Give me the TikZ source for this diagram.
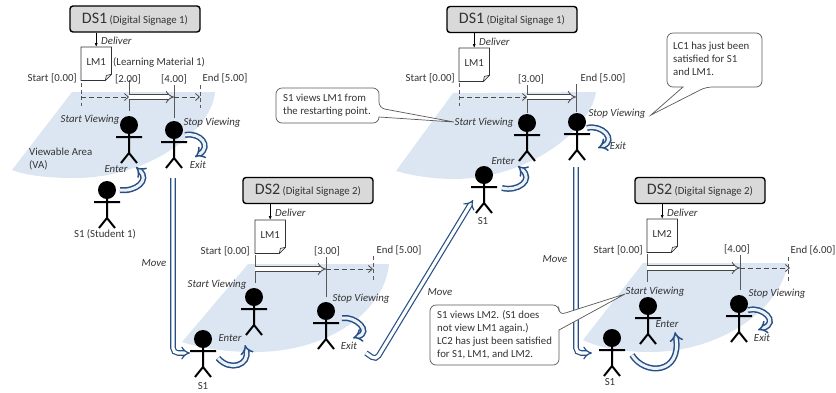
\documentclass[tikz,border=0pt]{standalone}
\usepackage{fontspec}
\setmainfont{Carlito}
\usetikzlibrary{arrows.meta,calc}
\definecolor{vablue}{HTML}{DCE6F2}
\definecolor{mvblue}{HTML}{264F85}
\definecolor{txtgray}{HTML}{333333}
\tikzset{
    dsbox/.style={draw=black,line width=1.4pt,fill=gray!30,rounded corners=3pt,minimum width=130pt,minimum height=26pt,inner sep=0pt,text=txtgray},
    lab/.style={text=txtgray,font=\fontsize{10.8}{13}\selectfont,inner sep=0pt},
    act/.style={lab,font=\fontsize{10.8}{13}\selectfont\itshape},
    va/.style={fill=vablue,draw=none},
    tickdash/.style={gray!70!black,dash pattern=on 4pt off 2.5pt,line width=0.8pt},
    ticksolid/.style={gray!70!black,line width=0.9pt},
    lookline/.style={-{Straight Barb[length=4pt,width=7pt]},dash pattern=on 5pt off 3pt,gray!60!black,line width=0.8pt},
    seenline/.style={-{Implies},draw=gray!55!black,double=white,double distance=3.6pt,line width=0.8pt},
    mvarrow/.style={-{Implies},draw=mvblue,double=white,double distance=3.2pt,line width=1.2pt,rounded corners=5pt},
    curvearrow/.style={-{Implies},draw=mvblue,double=vablue!50,double distance=3pt,line width=1.5pt},
    balloon/.style={draw=gray!70!black,fill=white,line width=0.7pt,rounded corners=6pt},
    actor/.pic={
        \fill[black] (0,0) circle (9);
        \draw[black,line width=2pt] (-13,12) -- (13,12) (0,9) -- (0,28) (-8,38) -- (0,28) -- (8,38);
    }
}
\newcommand{\lmdoc}[4]{% name, top left x, top left y, text
    \node[minimum width=30pt,minimum height=33pt,inner sep=0pt,anchor=north west] (#1) at (#2,#3) {};
    \draw[draw=gray!40!black,fill=white,line width=0.7pt] (#1.north west) -- (#1.north east) -- ($(#1.south east)+(0,-6)$) -- ($(#1.south east)+(-6,0)$) -- (#1.south west) -- cycle;
    \draw[draw=gray!40!black,line width=0.7pt] ($(#1.south east)+(0,-6)$) -- ($(#1.south east)+(-5,-5)$) -- ($(#1.south east)+(-6,0)$);
    \node[lab] (#1txt) at ($(#1.north)+(0,15)$) {#4};
}
\begin{document}
\begin{tikzpicture}[x=1pt,y=-1pt]
    \useasboundingbox (0,0) rectangle (836,392);
    % viewable areas
    \fill[va] (72,92) -- (215,92) .. controls (212,130) and (150,178) .. (75,178) .. controls (45,178) and (25,175) .. (12,170) -- cycle;
    \fill[va] (248,264) -- (389,264) .. controls (385,310) and (330,352) .. (255,352) .. controls (225,352) and (200,348) .. (182,342) -- cycle;
    \fill[va] (453,93) -- (596,92) .. controls (590,130) and (530,178) .. (455,179) .. controls (430,179) and (410,175) .. (396,171) -- cycle;
    \fill[va] (643,263) -- (788,263) .. controls (780,310) and (720,352) .. (650,352) .. controls (620,352) and (600,348) .. (583,340) -- cycle;

    % signage boxes and materials
    \node[dsbox] (dsa) at (135,19) {{\fontsize{16}{18}\selectfont DS1} {\fontsize{10.8}{13}\selectfont (Digital Signage 1)}};
    \node[dsbox] (dsb) at (308,190.5) {{\fontsize{16}{18}\selectfont DS2} {\fontsize{10.8}{13}\selectfont (Digital Signage 2)}};
    \node[dsbox] (dsc) at (512,19.5) {{\fontsize{16}{18}\selectfont DS1} {\fontsize{10.8}{13}\selectfont (Digital Signage 1)}};
    \node[dsbox] (dsd) at (700,190.5) {{\fontsize{16}{18}\selectfont DS2} {\fontsize{10.8}{13}\selectfont (Digital Signage 2)}};
    \lmdoc{lma}{81}{47}{LM1}
    \lmdoc{lmb}{255}{220}{LM1}
    \lmdoc{lmc}{459}{48}{LM1}
    \lmdoc{lmd}{647}{219}{LM2}
    \draw[-{Latex[length=4pt]},line width=0.7pt] (dsa.south -| lma.north) -- (lma.north);
    \draw[-{Latex[length=4pt]},line width=0.7pt] (dsb.south -| lmb.north) -- (lmb.north);
    \draw[-{Latex[length=4pt]},line width=0.7pt] (dsc.south -| lmc.north) -- (lmc.north);
    \draw[-{Latex[length=4pt]},line width=0.7pt] (dsd.south -| lmd.north) -- (lmd.north);
    \node[act,anchor=west] (dela) at (101,41) {Deliver};
    \node[act,anchor=west] (delb) at (275,213) {Deliver};
    \node[act,anchor=west] (delc) at (479,42) {Deliver};
    \node[act,anchor=west] (deld) at (667,213) {Deliver};
    \node[lab,anchor=west] (lmname) at (113,62) {(Learning Material 1)};

    % time line 1
    \coordinate (ta) at (81,97); \coordinate (tb) at (129,97); \coordinate (tc) at (174,97); \coordinate (td) at (200,97);
    \draw[tickdash] (ta) ++(0,-14) -- ++(0,23);
    \draw[ticksolid] (tb) ++(0,-17) -- ++(0,31);
    \draw[ticksolid] (tc) ++(0,-12) -- ++(0,33);
    \draw[tickdash] (td) ++(0,-12) -- ++(0,23);
    \draw[lookline] (ta) -- (tb);
    \draw[seenline] (tb) -- (tc);
    \draw[lookline] (tc) -- (td);
    \node[lab,anchor=east] (sa) at (77,78) {Start [0.00]};
    \node[lab] (ma) at (128,79) {[2.00]};
    \node[lab] (mb) at (174,79) {[4.00]};
    \node[lab] (ea) at (225,78) {End [5.00]};

    % time line 2
    \coordinate (ua) at (255,269); \coordinate (ub) at (326,269); \coordinate (uc) at (373,269);
    \draw[ticksolid] (ua) ++(0,-14) -- ++(0,28);
    \draw[ticksolid] (ub) ++(0,-12) -- ++(0,40);
    \draw[tickdash] (uc) ++(0,-13) -- ++(0,24);
    \draw[seenline] (ua) -- (ub);
    \draw[lookline] (ub) -- (uc);
    \node[lab,anchor=east] (sb) at (250,251) {Start [0.00]};
    \node[lab] (mc) at (327,251) {[3.00]};
    \node[lab] (eb) at (399,250) {End [5.00]};

    % time line 3
    \coordinate (va) at (459,97); \coordinate (vb) at (527,97); \coordinate (vc) at (576,97);
    \draw[tickdash] (va) ++(0,-14) -- ++(0,23);
    \draw[ticksolid] (vb) ++(0,-12) -- ++(0,28);
    \draw[ticksolid] (vc) ++(0,-13) -- ++(0,28);
    \draw[lookline] (va) -- (vb);
    \draw[seenline] (vb) -- (vc);
    \node[lab,anchor=east] (sc) at (455,78) {Start [0.00]};
    \node[lab] (md) at (531,79) {[3.00]};
    \node[lab] (ec) at (603,78) {End [5.00]};

    % time line 4
    \coordinate (wa) at (647,268); \coordinate (wb) at (740,268); \coordinate (wc) at (790,268);
    \draw[ticksolid] (wa) ++(0,-14) -- ++(0,28);
    \draw[ticksolid] (wb) ++(0,-13) -- ++(0,35);
    \draw[tickdash] (wc) ++(-2,-11) -- ++(0,24);
    \draw[seenline] (wa) -- (wb);
    \draw[lookline] (wb) -- (wc);
    \node[lab,anchor=east] (sd) at (643,250) {Start [0.00]};
    \node[lab] (me) at (737,249) {[4.00]};
    \node[lab] (ed) at (813,250) {End [6.00]};

    % students
    \pic at (129,125) {actor};
    \pic at (174,130) {actor};
    \pic at (107,190) {actor};
    \pic at (254,297) {actor};
    \pic at (326,311) {actor};
    \pic at (203,339) {actor};
    \pic at (527,123) {actor};
    \pic at (484,175) {actor};
    \pic at (577,122) {actor};
    \pic at (648,306) {actor};
    \pic at (739,304) {actor};
    \pic at (612,338) {actor};
    \node[lab] (sta) at (105,234) {S1 (Student 1)};
    \node[lab] (stb) at (203,386) {S1};
    \node[lab] (stc) at (483,221) {S1};
    \node[lab] (std) at (610,382) {S1};

    % moving between the signages
    \coordinate (mva) at (173,178); \coordinate (mvb) at (190,353);
    \coordinate (mvc) at (366,353); \coordinate (mvd) at (473,200);
    \coordinate (mve) at (576,167); \coordinate (mvf) at (592,353);
    \draw[mvarrow] (mva) -- (mva |- mvb) -- (mvb);
    \draw[mvarrow] (mvc) -- (376,360) -- (mvd);
    \draw[mvarrow] (mve) -- (mve |- mvf) -- (mvf);
    \node[act] (mvla) at (154,263) {Move};
    \node[act] (mvlb) at (440,292) {Move};
    \node[act] (mvlc) at (555,259) {Move};

    % enter and exit
    \draw[curvearrow] (120,190) .. controls (136,192) and (150,180) .. (136,167);
    \draw[curvearrow] (185,135) .. controls (200,132) and (212,146) .. (195,157);
    \draw[curvearrow] (218,358) .. controls (230,372) and (250,365) .. (245,345);
    \draw[curvearrow] (342,318) .. controls (356,316) and (372,332) .. (353,338);
    \draw[curvearrow] (502,188) .. controls (518,192) and (534,180) .. (518,166);
    \draw[curvearrow] (587,128) .. controls (602,124) and (617,140) .. (598,148);
    \draw[curvearrow] (632,355) .. controls (645,376) and (682,374) .. (675,332);
    \draw[curvearrow] (748,310) .. controls (762,306) and (780,322) .. (758,330);

    % activity labels
    \node[act] (sva) at (90,120) {Start Viewing};
    \node[act] (ova) at (212,123) {Stop Viewing};
    \node[act] (ena) at (116,169) {Enter};
    \node[act] (exa) at (198,165) {Exit};
    \node[lab,align=left,anchor=west] (vaname) at (29,159) {Viewable Area\\(VA)};
    \node[act] (svb) at (217,285) {Start Viewing};
    \node[act] (ovb) at (361,299) {Stop Viewing};
    \node[act] (enb) at (230,338) {Enter};
    \node[act] (exb) at (349,346) {Exit};
    \node[act] (svc) at (484,123) {Start Viewing};
    \node[act] (ovc) at (617,114) {Stop Viewing};
    \node[act] (enc) at (503,161) {Enter};
    \node[act] (exc) at (618,146) {Exit};
    \node[act] (svd) at (655,292) {Start Viewing};
    \node[act] (ovd) at (777,294) {Stop Viewing};
    \node[act] (end) at (667,324) {Enter};
    \node[act] (exd) at (762,338) {Exit};

    % balloons
    \draw[balloon] (300,88) -- (379,88) -- (379,108) [sharp corners] -- (454,122) -- (379,117) [rounded corners=6pt] -- (379,123) -- (276,123) -- (276,88) -- cycle;
    \node[lab,align=left,anchor=west] (noa) at (283,105.5) {S1 views LM1 from\\the restarting point.};
    \draw[balloon] (700,33) -- (762,33) -- (762,87) -- (706,87) [sharp corners] -- (651,115) -- (683,87) [rounded corners=6pt] -- (667,87) -- (667,33) -- cycle;
    \node[lab,align=left,anchor=west] (nob) at (673,59) {LC1 has just been\\satisfied for S1\\and LM1.};
    \draw[balloon] (480,305) -- (559,305) -- (559,315) [sharp corners] -- (625,294) -- (559,330) [rounded corners=6pt] -- (559,365) -- (430,365) -- (430,305) -- cycle;
    \node[lab,align=left,anchor=west] (noc) at (437,335) {S1 views LM2. (S1 does\\not view LM1 again.)\\LC2 has just been satisfied\\for S1, LM1, and LM2.};
\end{tikzpicture}
\end{document}
